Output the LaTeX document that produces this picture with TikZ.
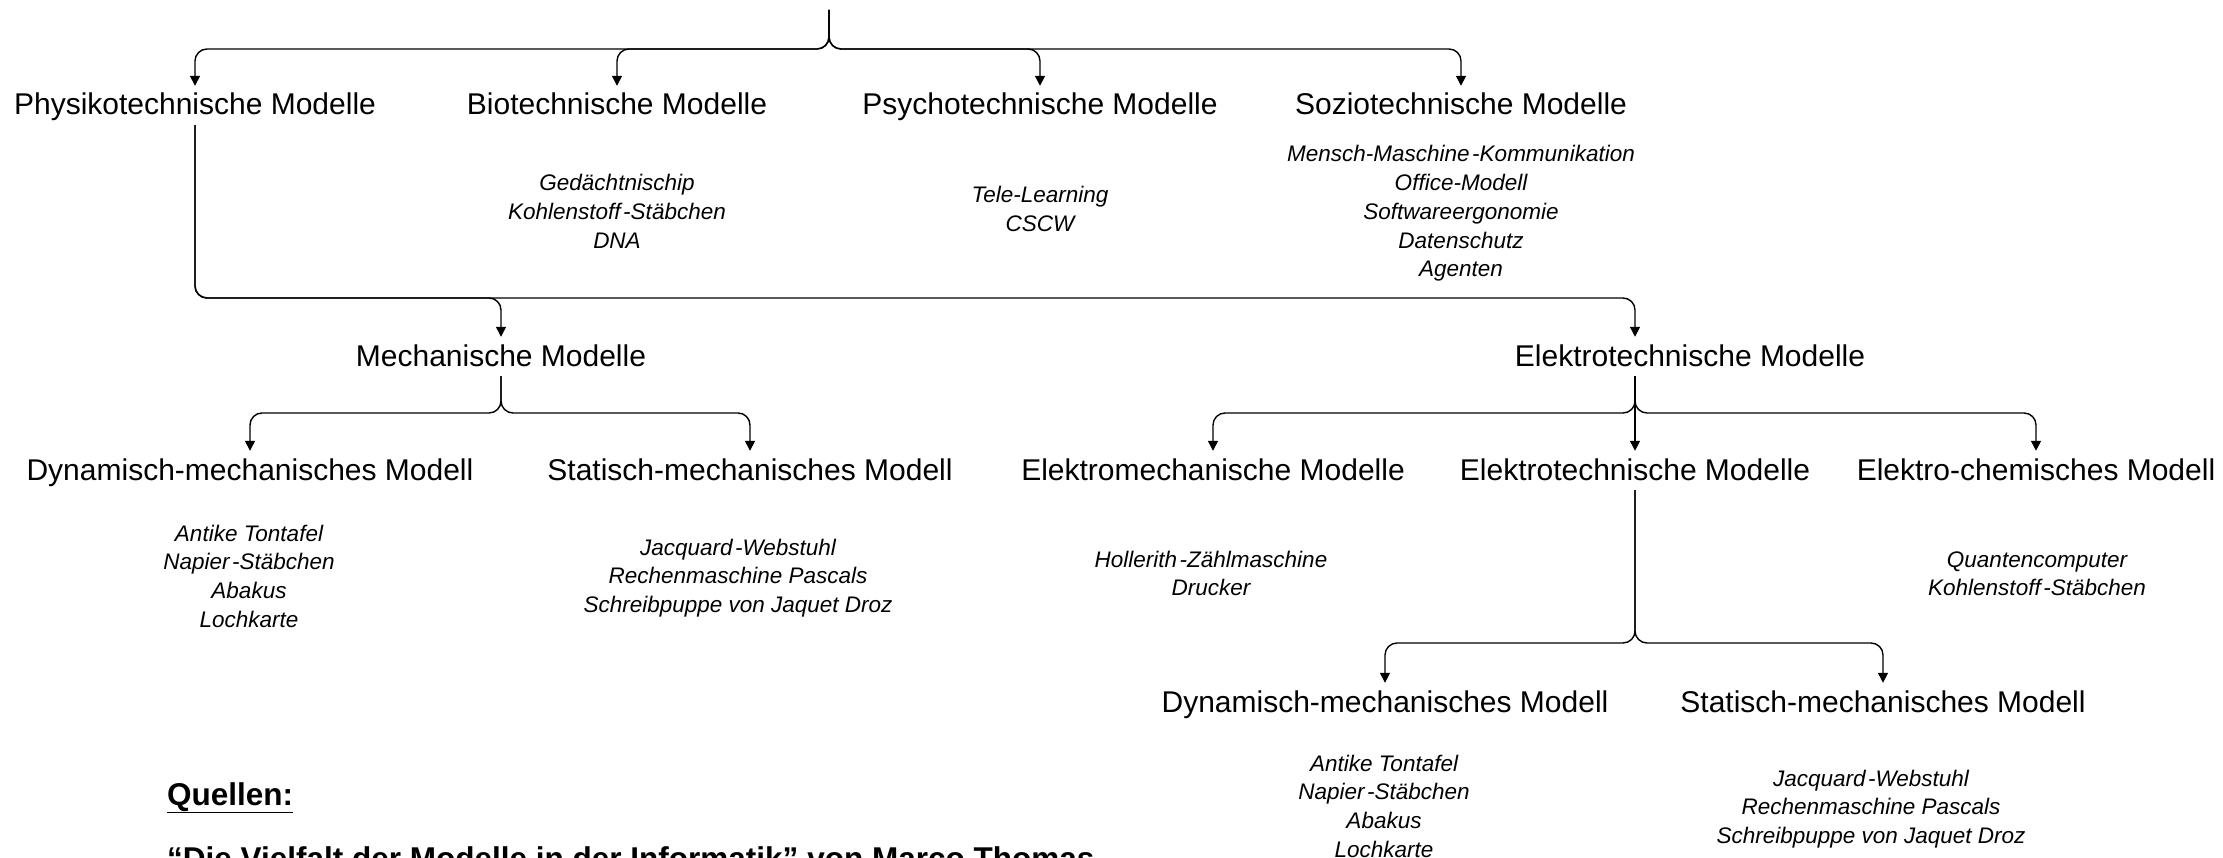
\documentclass[tikz,border=0pt]{standalone}
\usepackage{fontspec}
\setmainfont{Liberation Sans}
\usetikzlibrary{arrows.meta}
% hyphen set with a little extra space in front of it
\newcommand\hyphgap{\kern2.5pt-}

\begin{document}
\begin{tikzpicture}[x=1pt,y=-1pt,
  conn/.style={line width=1.4pt, rounded corners=12pt,
    -{Triangle[length=10pt,width=10pt]}},
  model/.style={font=\fontsize{30}{36}\selectfont, inner xsep=0pt,
    inner ysep=7pt, text height=22pt, text depth=3pt, anchor=base},
  % anchor=base of a multi-line node is the baseline of its last line
  items/.style={font=\fontsize{22.5}{28.7}\selectfont\itshape,
    align=center, anchor=base, inner sep=0pt},
  src/.style={font=\fontsize{31.5}{38}\selectfont\bfseries,
    inner sep=0pt, anchor=base west},
]
\useasboundingbox (0,0) rectangle (2223,858);
\clip (0,0) rectangle (2223,858);

% first level
\node[model] (phys) at (195,115) {Physikotechnische Modelle};
\node[model] (bio)  at (617,115) {Biotechnische Modelle};
\node[model] (psy)  at (1040,115) {Psychotechnische Modelle};
\node[model] (soz)  at (1461,115) {Soziotechnische Modelle};

% second level
\node[model] (mech) at (501,366) {Mechanische Modelle};
\node[model] (elt)  at (1690,366) {Elektrotechnische Modelle};

% third level
\node[model] (dyn)  at (250,480) {Dynamisch-mechanisches Modell};
\node[model] (stat) at (750,480) {Statisch-mechanisches Modell};
\node[model] (elm)  at (1213,480) {Elektromechanische Modelle};
\node[model] (elt2) at (1635,480) {Elektrotechnische Modelle};
\node[model] (elc)  at (2036,480) {Elektro-chemisches Modell};

% fourth level
\node[model] (dyn2)  at (1385,712) {Dynamisch-mechanisches Modell};
\node[model] (stat2) at (1883,712) {Statisch-mechanisches Modell};

% examples (positioned by the baseline of the last line)
\node[items] (bioI)  at (617,248.4) {Gedächtnischip\\Kohlenstoff\hyphgap Stäbchen\\DNA};
\node[items] (psyI)  at (1040,231.7) {Tele-Learning\\CSCW};
\node[items] (sozI)  at (1461,276.8) {Mensch-Maschine\hyphgap Kommunikation\\Office-Modell\\Softwareergonomie\\Datenschutz\\Agenten};
\node[items] (dynI)  at (249,627.1) {Antike Tontafel\\Napier\hyphgap Stäbchen\\Abakus\\Lochkarte};
\node[items] (statI) at (738,612.4) {Jacquard\hyphgap Webstuhl\\Rechenmaschine Pascals\\Schreibpuppe von Jaquet Droz};
\node[items] (elmI)  at (1211,595.7) {Hollerith\hyphgap Zählmaschine\\Drucker};
\node[items] (elcI)  at (2037,595.7) {Quantencomputer\\Kohlenstoff\hyphgap Stäbchen};
\node[items] (dyn2I) at (1384,857.1) {Antike Tontafel\\Napier\hyphgap Stäbchen\\Abakus\\Lochkarte};
\node[items] (stat2I) at (1871,843.4) {Jacquard\hyphgap Webstuhl\\Rechenmaschine Pascals\\Schreibpuppe von Jaquet Droz};

% sources
\node[src] (quellen) at (167,805) {\underline{Quellen:}};
\node[src] (ref) at (167,869) {“Die Vielfalt der Modelle in der Informatik” von Marco Thomas};

% branching points
\coordinate (top) at (829,10);
\coordinate (j1) at (829,49);
\coordinate (j2) at (195,298);
\coordinate (j3) at (501,413);
\coordinate (eltN) at ([xshift=-55pt]elt.north);
\coordinate (eltS) at ([xshift=-55pt]elt.south);
\coordinate (j4) at (1635,413);
\coordinate (j5) at (1635,643);

% connectors
\draw[conn] (top) -- (j1) -| (phys.north);
\draw[conn] (top) -- (j1) -| (bio.north);
\draw[conn] (top) -- (j1) -| (psy.north);
\draw[conn] (top) -- (j1) -| (soz.north);

\draw[conn] (phys.south) -- (j2) -| (mech.north);
\draw[conn] (phys.south) -- (j2) -| (eltN);

\draw[conn] (mech.south) -- (j3) -| (dyn.north);
\draw[conn] (mech.south) -- (j3) -| (stat.north);

\draw[conn] (eltS) -- (j4) -| (elm.north);
\draw[conn] (eltS) -- (elt2.north);
\draw[conn] (eltS) -- (j4) -| (elc.north);

\draw[conn] (elt2.south) -- (j5) -| (dyn2.north);
\draw[conn] (elt2.south) -- (j5) -| (stat2.north);
\end{tikzpicture}
\end{document}
